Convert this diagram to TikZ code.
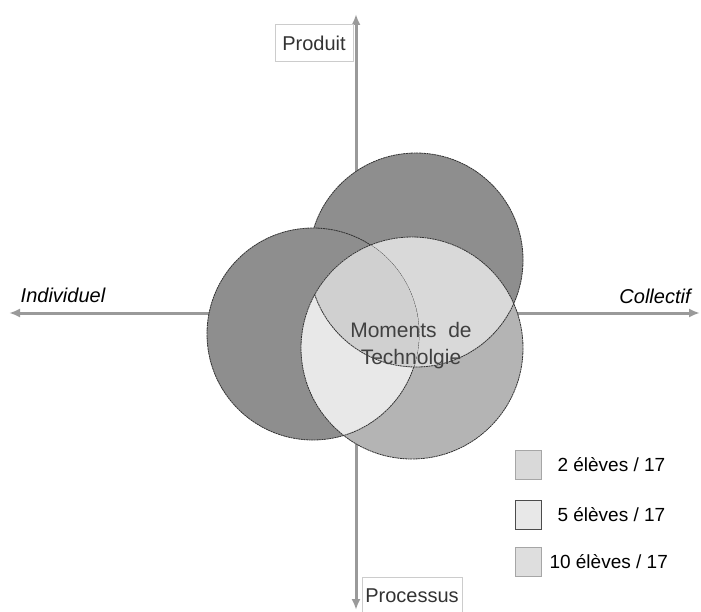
\documentclass[tikz,border=0pt]{standalone}
\usepackage{fontspec}
\setmainfont{Liberation Sans}
\usetikzlibrary{arrows.meta}

\definecolor{axegris}{HTML}{9A9A9A}
\definecolor{fonce}{HTML}{8E8E8E}
\definecolor{moyen}{HTML}{B4B4B4}
\definecolor{clair}{HTML}{E8E8E8}
\definecolor{pale}{HTML}{D9D9D9}
\definecolor{milieu}{HTML}{D0D0D0}

\begin{document}
\begin{tikzpicture}[x=1pt, y=-1pt,
    axe/.style={line width=3pt, draw=axegris, {Latex[length=11pt,width=9pt]}-{Latex[length=11pt,width=9pt]}},
    etiq/.style={draw=gray!40, fill=white, text=black!80, font=\fontsize{20}{24}\selectfont, inner sep=3pt, anchor=center},
    pole/.style={font=\fontsize{20}{24}\selectfont\itshape},
    cercle/.style={draw=black!80, line width=0.8pt, dash pattern=on 2pt off 0.6pt},
    case/.style={draw=gray!70, minimum width=26pt, minimum height=29pt, inner sep=0pt},
    leg/.style={font=\fontsize{19}{23}\selectfont, anchor=west}
]
\useasboundingbox (0,0) rectangle (701,612);

% axes
\coordinate (haut) at (356,14);
\coordinate (bas) at (356,610);
\coordinate (gauche) at (9,313);
\coordinate (droite) at (700,313);
\draw[axe] (bas) -- (haut);
\draw[axe] (gauche) -- (droite);

% cercles
\coordinate (cL) at (313,334);
\coordinate (cT) at (416,260);
\coordinate (cB) at (412,348);
\def\rL{106}
\def\rT{107}
\def\rB{111}

\fill[fonce] (cT) circle[radius=\rT];
\draw[cercle] (cT) circle[radius=\rT];
\fill[fonce] (cL) circle[radius=\rL];
\draw[cercle] (cL) circle[radius=\rL];
\fill[moyen] (cB) circle[radius=\rB];
\begin{scope}
  \clip (cB) circle[radius=\rB];
  \fill[pale] (cT) circle[radius=\rT];
  \fill[clair] (cL) circle[radius=\rL];
  \draw[cercle] (cL) circle[radius=\rL];
  \begin{scope}
    \clip (cL) circle[radius=\rL];
    \fill[milieu] (cT) circle[radius=\rT];
  \end{scope}
  \draw[cercle] (cT) circle[radius=\rT];
\end{scope}
\draw[cercle] (cB) circle[radius=\rB];

\node[font=\fontsize{21}{27}\selectfont, align=center, text=black!75] (moments) at (411,346)
  {Moments\ \ de\\Technolgie};

% etiquettes des axes
\node[etiq, minimum width=78pt, minimum height=37pt] (produit) at (314,43) {Produit};
\node[etiq, minimum width=100pt, minimum height=37pt] (processus) at (412,596) {Processus};
\node[pole] (indiv) at (63,295) {Individuel};
\node[pole] (collectif) at (655,296) {Collectif};

% legende
\node[case, fill=pale] (case2) at (528,465) {};
\node[case, fill=clair, draw=black!70] (case5) at (528,515) {};
\node[case, fill=milieu!70] (case10) at (528,562) {};
\node[leg] (leg2) at (554,465) {2 élèves / 17};
\node[leg] (leg5) at (554,515) {5 élèves / 17};
\node[leg] (leg10) at (546,562) {10 élèves / 17};

\end{tikzpicture}
\end{document}
